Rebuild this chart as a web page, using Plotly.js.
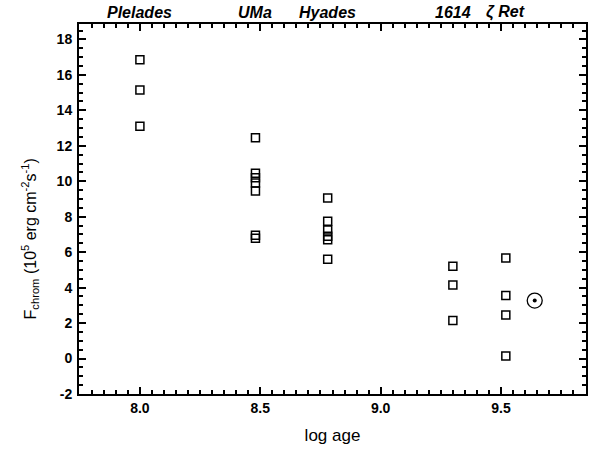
<!DOCTYPE html>
<html>
<head>
<meta charset="utf-8">
<script src="https://cdn.plot.ly/plotly-3.0.1.min.js"></script>
<style>html,body{margin:0;padding:0;background:#fff;}#chart{width:598px;height:453px;}</style>
</head>
<body>
<div id="chart"></div>
<script>
// Cluster labels and log ages
const clusterNames = ["Plelades", "UMa", "Hyades", "1614", "\u03B6 Ret"];
const clusterAges = [8.0, 8.48, 8.78, 9.30, 9.52];
// Chromospheric flux values (10^5 erg cm^-2 s^-1) per cluster
const pleiadesF = [16.85, 15.15, 13.1];
const umaF = [12.45, 10.45, 10.2, 9.9, 9.45, 6.95, 6.78];
const hyadesF = [9.05, 7.75, 7.25, 6.9, 6.7, 5.6];
const m1614F = [5.2, 4.15, 2.15];
const zetRetF = [5.67, 3.55, 2.45, 0.15];
const clusterF = [pleiadesF, umaF, hyadesF, m1614F, zetRetF];
// Sun
const sunAge = [9.64];
const sunF = [3.27];
// Tick labels
const xTickVals = [8.0, 8.5, 9.0, 9.5];
const xTickText = ['8.0', '8.5', '9.0', '9.5'];
const yTickVals = [-2, 0, 2, 4, 6, 8, 10, 12, 14, 16, 18];
const yTickText = ['-2', '0', '2', '4', '6', '8', '10', '12', '14', '16', '18'];

const xs = [], ys = [];
clusterF.forEach((arr, i) => arr.forEach(v => { xs.push(clusterAges[i]); ys.push(v); }));

const FONT = 'Liberation Sans, Arial, sans-serif';

const traces = [
  {x: xs, y: ys, type: 'scatter', mode: 'markers',
   marker: {symbol: 'square-open', size: 8, color: '#000', line: {width: 1.5, color: '#000'}}},
  {x: sunAge, y: sunF, type: 'scatter', mode: 'markers',
   marker: {symbol: 'circle-open', size: 15, color: '#000', line: {width: 1.3, color: '#000'}}},
  {x: sunAge, y: sunF, type: 'scatter', mode: 'markers',
   marker: {symbol: 'circle', size: 4, color: '#000'}}
];

const axisCommon = {
  showgrid: false, zeroline: false, showline: true, linecolor: '#000', linewidth: 2,
  mirror: 'allticks', ticks: 'inside', ticklen: 7, tickwidth: 2, tickcolor: '#000',
  tickfont: {family: FONT, size: 14, color: '#000', weight: 'bold'}
};

const annotations = clusterNames.map((n, i) => ({
  x: clusterAges[i], xref: 'x', y: 1, yref: 'paper', yanchor: 'bottom', yshift: 1,
  text: '<b><i>' + n + '</i></b>', showarrow: false,
  font: {family: FONT, size: 16, color: '#000'}
}));
annotations.push({
  x: -0.097, xref: 'paper', y: 0.42, yref: 'paper', xanchor: 'center', yanchor: 'middle',
  textangle: -90, showarrow: false,
  text: 'F<sub>chrom</sub> (10<sup>5</sup> erg cm<sup>-2</sup>s<sup>-1</sup>)',
  font: {family: FONT, size: 16, color: '#000'}
});

const layout = {
  width: 598, height: 453,
  margin: {l: 79, r: 12, t: 24, b: 59},
  paper_bgcolor: '#fff', plot_bgcolor: '#fff',
  showlegend: false,
  xaxis: Object.assign({}, axisCommon, {
    range: [7.747, 9.853], tickvals: xTickVals, ticktext: xTickText,
    minor: {dtick: 0.05, tick0: 8.0, ticks: 'inside', ticklen: 4, tickwidth: 2, tickcolor: '#000'},
    title: {text: 'log age', standoff: 14, font: {family: FONT, size: 17, color: '#000'}}
  }),
  yaxis: Object.assign({}, axisCommon, {
    range: [-2, 18.87], tickvals: yTickVals, ticktext: yTickText,
    minor: {dtick: 0.5, tick0: 0, ticks: 'inside', ticklen: 4, tickwidth: 2, tickcolor: '#000'},
    ticklabelstandoff: 2
  }),
  annotations: annotations
};

Plotly.newPlot('chart', traces, layout, {displayModeBar: false, staticPlot: true});
</script>
</body>
</html>
